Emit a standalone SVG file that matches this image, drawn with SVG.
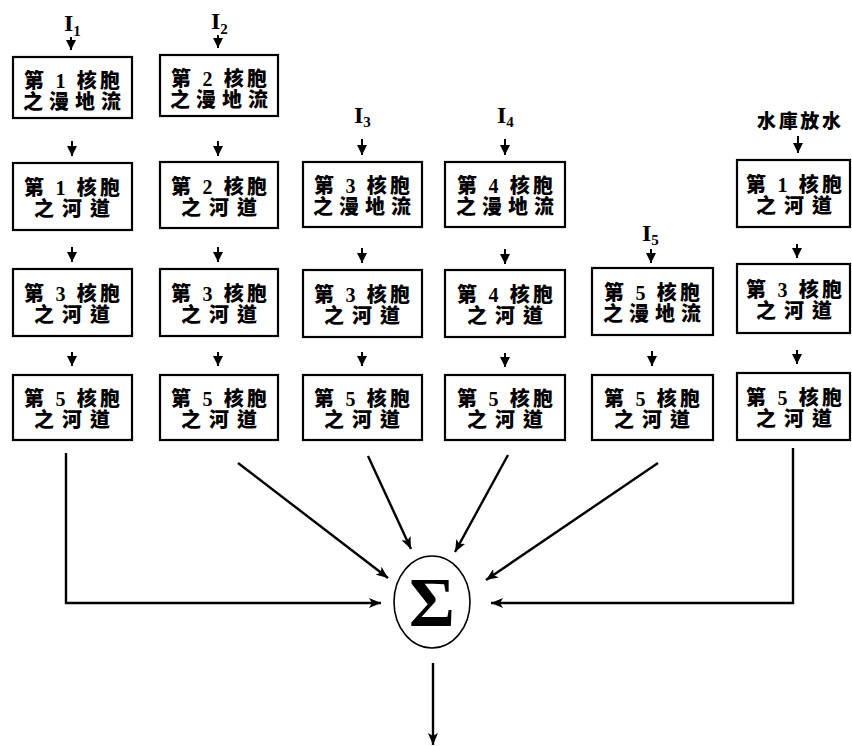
<svg xmlns="http://www.w3.org/2000/svg" width="852" height="746" viewBox="0 0 852 746">
<style>
.box{fill:#fff;stroke:#000;stroke-width:2.2}
.t{font-family:"Liberation Serif","Noto Sans CJK TC","Noto Sans CJK SC",serif;font-weight:900;font-size:20px;text-anchor:middle;fill:#000}
.lbl{font-family:"Liberation Serif",serif;font-weight:bold;font-size:24px;fill:#000}
.sub{font-family:"Liberation Serif",serif;font-weight:bold;font-size:15px;fill:#000}
.c{fill:none;stroke:#000;stroke-width:2.4}
.s{fill:none;stroke:#000;stroke-width:2}
</style>
<defs>
<marker id="ah" viewBox="0 0 12 10" refX="12" refY="5" markerWidth="12" markerHeight="10" markerUnits="userSpaceOnUse" orient="auto">
<path d="M0,0 L12,5 L0,10 L3,5 Z" fill="#000"/>
</marker>
<marker id="sh" viewBox="0 0 10 10" refX="10" refY="5" markerWidth="10" markerHeight="10" markerUnits="userSpaceOnUse" orient="auto">
<path d="M0,0 L10,5 L0,10 Z" fill="#000"/>
</marker>
</defs>

<g id="labels">
<text x="64" y="31"><tspan class="lbl">I</tspan><tspan class="sub" dy="5">1</tspan></text>
<text x="211" y="29"><tspan class="lbl">I</tspan><tspan class="sub" dy="5">2</tspan></text>
<text x="354" y="123"><tspan class="lbl">I</tspan><tspan class="sub" dy="4">3</tspan></text>
<text x="497" y="123"><tspan class="lbl">I</tspan><tspan class="sub" dy="4">4</tspan></text>
<text x="642" y="241"><tspan class="lbl">I</tspan><tspan class="sub" dy="4">5</tspan></text>
<text x="799" y="128" font-family="'Noto Sans CJK TC','Noto Sans CJK SC',sans-serif" font-weight="900" font-size="19" text-anchor="middle" textLength="84" lengthAdjust="spacing">水庫放水</text>
</g>

<g id="c1r1"><rect class="box" x="13" y="57" width="119" height="61"/><text class="t"><tspan x="72" y="88" textLength="96" lengthAdjust="spacing">第 1 核胞</tspan><tspan x="72" y="109" textLength="98" lengthAdjust="spacing">之漫地流</tspan></text></g>
<g id="c1r2"><rect class="box" x="13" y="163" width="119" height="67"/><text class="t"><tspan x="72" y="195" textLength="96" lengthAdjust="spacing">第 1 核胞</tspan><tspan x="72" y="216" textLength="76" lengthAdjust="spacing">之河道</tspan></text></g>
<g id="c1r3"><rect class="box" x="13" y="269" width="119" height="67"/><text class="t"><tspan x="72" y="301" textLength="96" lengthAdjust="spacing">第 3 核胞</tspan><tspan x="72" y="322" textLength="76" lengthAdjust="spacing">之河道</tspan></text></g>
<g id="c1r4"><rect class="box" x="13" y="375" width="119" height="65"/><text class="t"><tspan x="72" y="406" textLength="96" lengthAdjust="spacing">第 5 核胞</tspan><tspan x="72" y="427" textLength="76" lengthAdjust="spacing">之河道</tspan></text></g>

<g id="c2r1"><rect class="box" x="160" y="55" width="118" height="61"/><text class="t"><tspan x="219" y="86" textLength="96" lengthAdjust="spacing">第 2 核胞</tspan><tspan x="219" y="107" textLength="98" lengthAdjust="spacing">之漫地流</tspan></text></g>
<g id="c2r2"><rect class="box" x="160" y="162" width="118" height="66"/><text class="t"><tspan x="219" y="194" textLength="96" lengthAdjust="spacing">第 2 核胞</tspan><tspan x="219" y="215" textLength="76" lengthAdjust="spacing">之河道</tspan></text></g>
<g id="c2r3"><rect class="box" x="160" y="269" width="118" height="67"/><text class="t"><tspan x="219" y="301" textLength="96" lengthAdjust="spacing">第 3 核胞</tspan><tspan x="219" y="322" textLength="76" lengthAdjust="spacing">之河道</tspan></text></g>
<g id="c2r4"><rect class="box" x="160" y="375" width="118" height="65"/><text class="t"><tspan x="219" y="406" textLength="96" lengthAdjust="spacing">第 5 核胞</tspan><tspan x="219" y="427" textLength="76" lengthAdjust="spacing">之河道</tspan></text></g>

<g id="c3r2"><rect class="box" x="303" y="162" width="119" height="65"/><text class="t"><tspan x="362" y="193" textLength="96" lengthAdjust="spacing">第 3 核胞</tspan><tspan x="362" y="214" textLength="98" lengthAdjust="spacing">之漫地流</tspan></text></g>
<g id="c3r3"><rect class="box" x="303" y="270" width="119" height="67"/><text class="t"><tspan x="362" y="302" textLength="96" lengthAdjust="spacing">第 3 核胞</tspan><tspan x="362" y="323" textLength="76" lengthAdjust="spacing">之河道</tspan></text></g>
<g id="c3r4"><rect class="box" x="303" y="375" width="119" height="65"/><text class="t"><tspan x="362" y="406" textLength="96" lengthAdjust="spacing">第 5 核胞</tspan><tspan x="362" y="427" textLength="76" lengthAdjust="spacing">之河道</tspan></text></g>

<g id="c4r2"><rect class="box" x="445" y="162" width="120" height="65"/><text class="t"><tspan x="505" y="193" textLength="96" lengthAdjust="spacing">第 4 核胞</tspan><tspan x="505" y="214" textLength="98" lengthAdjust="spacing">之漫地流</tspan></text></g>
<g id="c4r3"><rect class="box" x="445" y="270" width="120" height="67"/><text class="t"><tspan x="505" y="302" textLength="96" lengthAdjust="spacing">第 4 核胞</tspan><tspan x="505" y="323" textLength="76" lengthAdjust="spacing">之河道</tspan></text></g>
<g id="c4r4"><rect class="box" x="445" y="375" width="120" height="65"/><text class="t"><tspan x="505" y="406" textLength="96" lengthAdjust="spacing">第 5 核胞</tspan><tspan x="505" y="427" textLength="76" lengthAdjust="spacing">之河道</tspan></text></g>

<g id="c5r3"><rect class="box" x="592" y="268" width="121" height="67"/><text class="t"><tspan x="652" y="300" textLength="96" lengthAdjust="spacing">第 5 核胞</tspan><tspan x="652" y="321" textLength="98" lengthAdjust="spacing">之漫地流</tspan></text></g>
<g id="c5r4"><rect class="box" x="592" y="375" width="121" height="65"/><text class="t"><tspan x="652" y="406" textLength="96" lengthAdjust="spacing">第 5 核胞</tspan><tspan x="652" y="427" textLength="76" lengthAdjust="spacing">之河道</tspan></text></g>

<g id="c6r2"><rect class="box" x="737" y="160" width="113" height="67"/><text class="t"><tspan x="794" y="192" textLength="96" lengthAdjust="spacing">第 1 核胞</tspan><tspan x="794" y="213" textLength="76" lengthAdjust="spacing">之河道</tspan></text></g>
<g id="c6r3"><rect class="box" x="737" y="264" width="113" height="69"/><text class="t"><tspan x="794" y="297" textLength="96" lengthAdjust="spacing">第 3 核胞</tspan><tspan x="794" y="318" textLength="76" lengthAdjust="spacing">之河道</tspan></text></g>
<g id="c6r4"><rect class="box" x="737" y="373" width="113" height="67"/><text class="t"><tspan x="794" y="405" textLength="96" lengthAdjust="spacing">第 5 核胞</tspan><tspan x="794" y="426" textLength="76" lengthAdjust="spacing">之河道</tspan></text></g>

<g id="sum"><ellipse cx="432" cy="602" rx="38" ry="46" fill="#fff" stroke="#000" stroke-width="1.6"/><text x="432" y="626" font-family="'Liberation Serif',serif" font-weight="bold" font-size="70" text-anchor="middle">Σ</text></g>

<g id="connectors">
<line class="s" x1="71" y1="37" x2="71" y2="50" marker-end="url(#sh)"/>
<line class="s" x1="218" y1="35" x2="218" y2="48" marker-end="url(#sh)"/>
<line class="s" x1="362" y1="139" x2="362" y2="155" marker-end="url(#sh)"/>
<line class="s" x1="505" y1="139" x2="505" y2="155" marker-end="url(#sh)"/>
<line class="s" x1="651" y1="249" x2="651" y2="263" marker-end="url(#sh)"/>
<line class="s" x1="798" y1="136" x2="798" y2="153" marker-end="url(#sh)"/>

<line class="s" x1="72" y1="141" x2="72" y2="156" marker-end="url(#sh)"/>
<line class="s" x1="218" y1="141" x2="218" y2="156" marker-end="url(#sh)"/>
<line class="s" x1="72" y1="247" x2="72" y2="262" marker-end="url(#sh)"/>
<line class="s" x1="218" y1="247" x2="218" y2="262" marker-end="url(#sh)"/>
<line class="s" x1="362" y1="248" x2="362" y2="263" marker-end="url(#sh)"/>
<line class="s" x1="505" y1="249" x2="505" y2="264" marker-end="url(#sh)"/>
<line class="s" x1="797" y1="244" x2="797" y2="258" marker-end="url(#sh)"/>

<line class="s" x1="72" y1="352" x2="72" y2="366" marker-end="url(#sh)"/>
<line class="s" x1="218" y1="352" x2="218" y2="366" marker-end="url(#sh)"/>
<line class="s" x1="362" y1="352" x2="362" y2="366" marker-end="url(#sh)"/>
<line class="s" x1="505" y1="353" x2="505" y2="367" marker-end="url(#sh)"/>
<line class="s" x1="652" y1="351" x2="652" y2="366" marker-end="url(#sh)"/>
<line class="s" x1="797" y1="350" x2="797" y2="364" marker-end="url(#sh)"/>

<polyline class="c" points="66,453 66,603 381,603" marker-end="url(#ah)"/>
<line class="c" x1="238" y1="463" x2="388" y2="578" marker-end="url(#ah)"/>
<line class="c" x1="368" y1="456" x2="411" y2="549" marker-end="url(#ah)"/>
<line class="c" x1="508" y1="455" x2="455" y2="552" marker-end="url(#ah)"/>
<line class="c" x1="658" y1="463" x2="486" y2="580" marker-end="url(#ah)"/>
<polyline class="c" points="793,448 793,603 491,603" marker-end="url(#ah)"/>
<line class="c" x1="433" y1="663" x2="433" y2="745" marker-end="url(#ah)"/>
</g>
</svg>
